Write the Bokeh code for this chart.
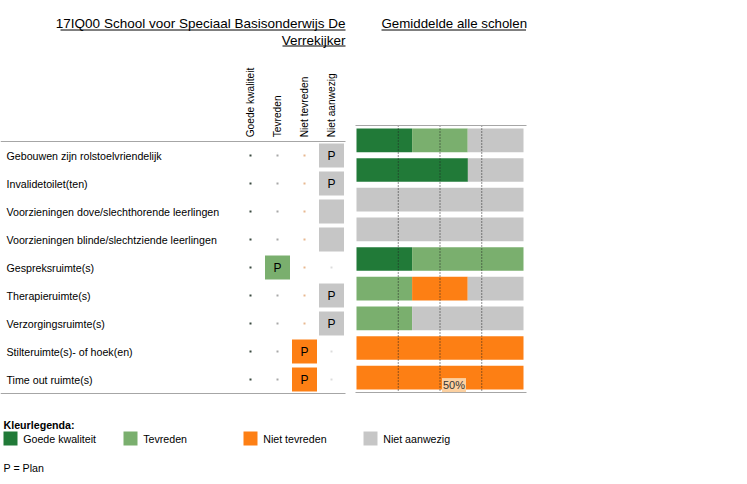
import math
from bokeh.plotting import figure
from bokeh.models import Range1d, ColumnDataSource
from bokeh.core.properties import value
from bokeh.embed import file_html
from bokeh.resources import INLINE

# ---------------- data ----------------
school_title = ["17IQ00 School voor Speciaal Basisonderwijs De", "Verrekijker"]
avg_title = "Gemiddelde alle scholen"
categories = [
    "Gebouwen zijn rolstoelvriendelijk",
    "Invalidetoilet(ten)",
    "Voorzieningen dove/slechthorende leerlingen",
    "Voorzieningen blinde/slechtziende leerlingen",
    "Gespreksruimte(s)",
    "Therapieruimte(s)",
    "Verzorgingsruimte(s)",
    "Stilteruimte(s)- of hoek(en)",
    "Time out ruimte(s)",
]
status_labels = ["Goede kwaliteit", "Tevreden", "Niet tevreden", "Niet aanwezig"]
status_colors = ["#217a38", "#7aaf6e", "#fd7f14", "#c6c6c6"]
dot_colors = ["#3a4a40", "#a8a8a8", "#e8b890", "#dcdcdc"]
# status of this school per category (index into status_labels) and plan flag
school_status = [3, 3, 3, 3, 1, 3, 3, 2, 2]
school_plan = ["P", "P", "", "", "P", "P", "P", "P", "P"]
# average over all schools (percent)
avg_goede = [33.3, 66.7, 0, 0, 33.3, 0, 0, 0, 0]
avg_tevreden = [33.3, 0, 0, 0, 66.7, 33.3, 33.3, 0, 0]
avg_niet_tevreden = [0, 0, 0, 0, 0, 33.3, 0, 100, 100]
avg_niet_aanwezig = [33.4, 33.3, 100, 100, 0, 33.4, 66.7, 0, 0]
grid_ticks = [25, 50, 75]
marked_tick = 50
marked_tick_label = "50%"
legend_title = "Kleurlegenda:"
plan_note = "P = Plan"

# ---------------- layout (pixels) ----------------
W, H, OFF = 739, 476, 0
X_MIN, X_MAX = OFF, OFF + W
Y_TOP, Y_BOT = OFF, OFF + H
BAR_X0, BAR_W = 356.0, 167.0          # 0% .. 100%
BAR_TOP, BAND = 125.0, (392.0 - 125.0) / 9
TROW_TOP, TROW_H = 141.0, 28.0
TCOL_X0, TCOL_W = 250.0, 27.0
FONT = value("Liberation Sans")

p = figure(width=W, height=H, output_backend="svg", toolbar_location=None,
           x_axis_type=None, y_axis_type=None, min_border=0,
           x_range=Range1d(X_MIN, X_MAX), y_range=Range1d(Y_BOT, Y_TOP))
p.outline_line_color = None
p.background_fill_color = "white"
p.border_fill_color = "white"

p.extra_x_ranges = {
    "pct": Range1d((X_MIN - BAR_X0) / BAR_W * 100, (X_MAX - BAR_X0) / BAR_W * 100),
    "tcols": Range1d((X_MIN - TCOL_X0) / TCOL_W, (X_MAX - TCOL_X0) / TCOL_W),
}
p.extra_y_ranges = {
    "rows": Range1d((Y_BOT - BAR_TOP) / BAND - 0.5, (Y_TOP - BAR_TOP) / BAND - 0.5),
    "trows": Range1d((Y_BOT - TROW_TOP) / TROW_H - 0.5, (Y_TOP - TROW_TOP) / TROW_H - 0.5),
}

n = len(categories)
idx = list(range(n))

# ---------------- titles ----------------
p.text(x=[345, 345], y=[23.3, 40.0], text=school_title, text_align="right",
       text_baseline="middle", text_font=FONT, text_font_size="13.5px", text_color="#000000")
p.segment(x0=[60, 282], x1=[345, 345], y0=[29.5, 45.5], y1=[29.5, 45.5],
          line_color="#000000", line_width=1)
p.text(x=[381], y=[23.3], text=[avg_title], text_align="left", text_baseline="middle",
       text_font=FONT, text_font_size="13.3px", text_color="#000000")
p.segment(x0=[381], x1=[525.5], y0=[29.5], y1=[29.5], line_color="#000000", line_width=1)

# ---------------- table ----------------
p.text(x=list(range(4)), y=[-0.65] * 4, text=status_labels, angle=math.pi / 2,
       text_align="left", text_baseline="middle", text_font=FONT, text_font_size="10.2px",
       text_color="#000000", x_range_name="tcols", y_range_name="trows")
p.segment(x0=[X_MIN, X_MIN], x1=[345, 345], y0=[-0.5, n - 0.5], y1=[-0.5, n - 0.5],
          line_color="#a6a6a6", line_width=1, x_range_name="default", y_range_name="trows")
p.text(x=[6] * n, y=idx, text=categories, text_align="left", text_baseline="middle",
       text_font=FONT, text_font_size="10.67px", text_color="#000000", y_range_name="trows")

dot_x, dot_y, dot_c = [], [], []
for i, s in enumerate(school_status):
    for j in range(4):
        if j != s:
            dot_x.append(j); dot_y.append(i); dot_c.append(dot_colors[j])
p.scatter(x=dot_x, y=dot_y, marker="square", size=2, fill_color=dot_c, line_color=None,
          x_range_name="tcols", y_range_name="trows")

box_src = ColumnDataSource(dict(
    x=school_status, y=idx, color=[status_colors[s] for s in school_status], plan=school_plan))
p.rect(x="x", y="y", width=25 / TCOL_W, height=24 / TROW_H, fill_color="color", line_color=None,
       source=box_src, x_range_name="tcols", y_range_name="trows")
p.text(x="x", y="y", text="plan", source=box_src, text_align="center", text_baseline="middle",
       text_font=FONT, text_font_size="12px", text_color="#000000",
       x_range_name="tcols", y_range_name="trows")

# ---------------- average bars ----------------
stackers = ["goede", "tevreden", "niet_tevreden", "niet_aanwezig"]
bar_src = ColumnDataSource(dict(y=idx, goede=avg_goede, tevreden=avg_tevreden,
                                niet_tevreden=avg_niet_tevreden, niet_aanwezig=avg_niet_aanwezig))
p.hbar_stack(stackers, y="y", height=0.8, color=status_colors, line_color=None, source=bar_src,
             x_range_name="pct", y_range_name="rows")
p.segment(x0=grid_ticks, x1=grid_ticks, y0=[-0.5] * 3, y1=[n - 0.5] * 3, line_color="#202020",
          line_dash="1 2", line_width=1, x_range_name="pct", y_range_name="rows")
p.segment(x0=[-0.6, -0.6], x1=[101.8, 101.8], y0=[-0.5, n - 0.5], y1=[-0.5, n - 0.5],
          line_color="#a6a6a6", line_width=1, x_range_name="pct", y_range_name="rows")
p.text(x=[marked_tick], y=[n - 1 + 0.25], text=[marked_tick_label], text_align="left",
       text_baseline="middle", x_offset=2, text_font=FONT, text_font_size="11px",
       text_color="#333333", background_fill_color="#fcd0a0", padding=1,
       x_range_name="pct", y_range_name="rows")

# ---------------- legend ----------------
p.text(x=[3], y=[424.5], text=[legend_title], text_align="left", text_baseline="middle",
       text_font=FONT, text_font_size="10.67px", text_font_style="bold", text_color="#000000")
leg_x = [3 + 120 * j for j in range(4)]
p.rect(x=[lx + 7 for lx in leg_x], y=[438] * 4, width=14, height=14, fill_color=status_colors,
       line_color=None)
p.text(x=[lx + 19.7 for lx in leg_x], y=[438] * 4, text=status_labels, text_align="left",
       text_baseline="middle", text_font=FONT, text_font_size="10.67px", text_color="#000000")
p.text(x=[3], y=[467], text=[plan_note], text_align="left", text_baseline="middle",
       text_font=FONT, text_font_size="10.67px", text_color="#000000")

open("out.html", "w").write(file_html(p, INLINE))
